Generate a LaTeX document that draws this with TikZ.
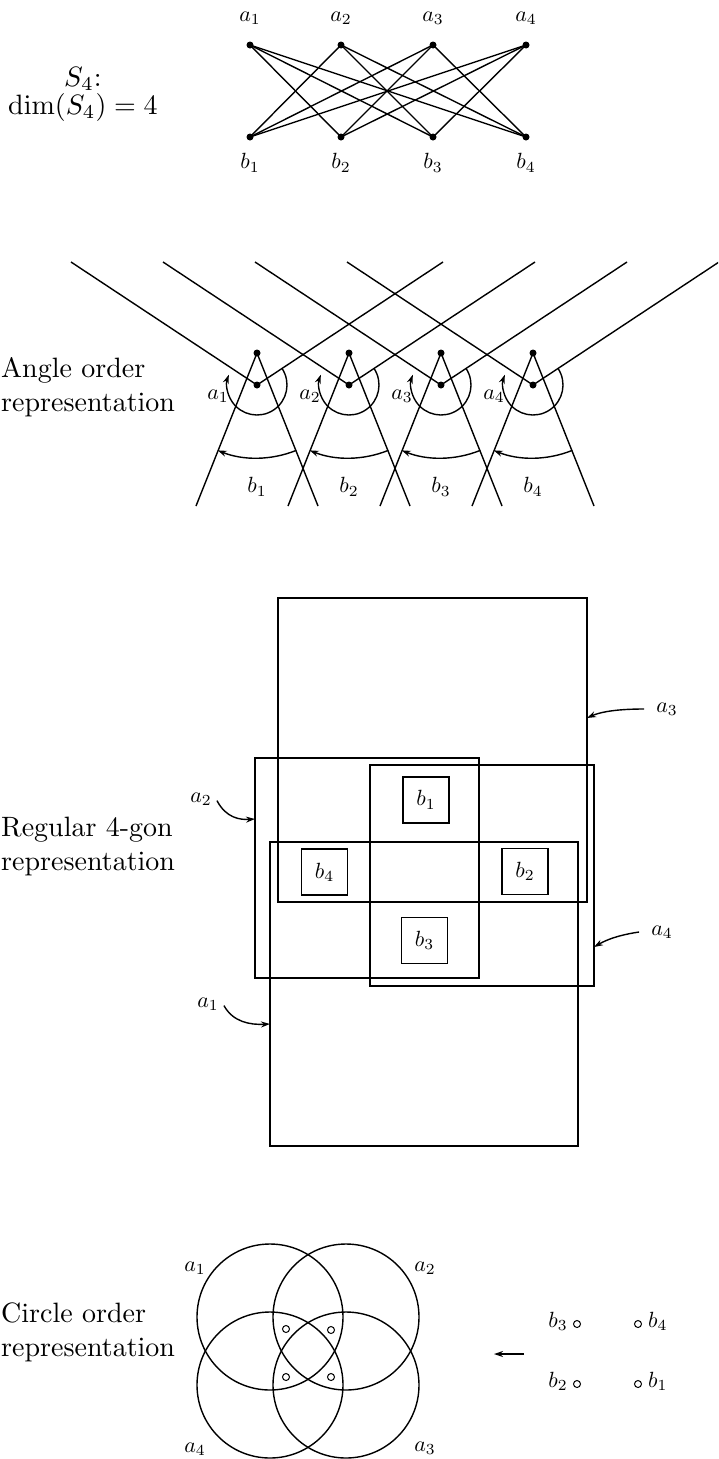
\documentclass[tikz,border=0pt]{standalone}
\usepackage{graphicx}
\usetikzlibrary{arrows.meta}
\newcommand\bigT[1]{\scalebox{2.8}{#1}}
\newcommand\smT[1]{\scalebox{2.2}{#1}}
\tikzset{
  ln/.style={line width=1.4pt},
  dot/.style={circle, fill=black, inner sep=0pt, minimum size=7pt},
  odot/.style={circle, draw=black, line width=1pt, inner sep=0pt, minimum size=7pt},
  lbl/.style={inner sep=0pt},
  big/.style={inner sep=0pt},
  arr/.style={ln, -{Stealth[length=9pt,width=6pt]}},
  boxr/.style={draw=black, line width=1.5pt, rectangle, inner sep=0pt},
  ring/.style={draw=black, line width=1.4pt, circle, inner sep=0pt, minimum size=146pt}
}
\begin{document}
\begin{tikzpicture}[x=1pt,y=-1pt]
\clip (0,0) rectangle (718,1459);

% ---------------- S4 graph ----------------
\node[big, anchor=base] (s4a) at (83,86) {\bigT{$S_4$:}};
\node[big, anchor=base] (s4b) at (83,114) {\bigT{$\dim(S_4) = 4$}};
\foreach \i/\x in {1/250,2/341,3/433,4/526}{
  \node[dot] (a\i) at (\x,45) {};
  \node[dot] (b\i) at (\x,137) {};
  \node[lbl] (la\i) at (\x,18) {\smT{$a_{\i}$}};
  \node[lbl] (lb\i) at (\x,163) {\smT{$b_{\i}$}};
}
\foreach \i in {1,...,4}{
  \foreach \j in {1,...,4}{
    \ifnum\i=\j\relax\else\draw[ln] (a\i.center) -- (b\j.center);\fi
  }
}

% ---------------- Angle order ----------------
\node[big, anchor=base west] (ang1) at (1,377) {\bigT{Angle order}};
\node[big, anchor=base west] (ang2) at (1,411) {\bigT{representation}};
\foreach \i in {0,1,2,3}{
  \pgfmathsetmacro\cx{257+92*\i}
  \pgfmathtruncatemacro\k{\i+1}
  \node[dot] (T\i) at (\cx,353) {};
  \node[dot] (V\i) at (\cx,385) {};
  \coordinate (VL\i) at (\cx-186,262);
  \coordinate (VR\i) at (\cx+186,262);
  \coordinate (FL\i) at (\cx-61,506);
  \coordinate (FR\i) at (\cx+61,506);
  \draw[ln] (VL\i) -- (V\i.center) -- (VR\i);
  \draw[ln] (FL\i) -- (T\i.center) -- (FR\i);
  \draw[arr] ([shift={(-33.5:30)}]V\i.center) arc[start angle=-33.5, end angle=200, radius=30];
  \draw[arr] ([shift={(68:105)}]T\i.center) arc[start angle=68, end angle=112, radius=105];
  \node[lbl] (aa\i) at (\cx-39,396) {\smT{$a_{\k}$}};
  \node[lbl] (ab\i) at (\cx,487) {\smT{$b_{\k}$}};
}

% ---------------- Regular 4-gon ----------------
\node[big, anchor=base west] (reg1) at (1,836) {\bigT{Regular 4-gon}};
\node[big, anchor=base west] (reg2) at (1,870) {\bigT{representation}};
\node[boxr, minimum width=309pt, minimum height=304pt] (R3) at (432.5,750) {};
\node[boxr, minimum width=308pt, minimum height=304pt] (R1) at (424,994) {};
\node[boxr, minimum width=224pt, minimum height=220pt] (R2) at (367,868) {};
\node[boxr, minimum width=224pt, minimum height=221pt] (R4) at (482,875.5) {};
\node[boxr, minimum width=46pt, minimum height=46pt] (B1) at (426,800) {\smT{$b_1$}};
\node[boxr, minimum width=46pt, minimum height=46pt] (B4) at (324.5,872) {\smT{$b_4$}};
\node[boxr, minimum width=46pt, minimum height=46pt] (B2) at (525,871.5) {\smT{$b_2$}};
\node[boxr, minimum width=46pt, minimum height=46pt] (B3) at (424.5,940.5) {\smT{$b_3$}};
\node[lbl] (ga3) at (667,709) {\smT{$a_3$}};
\node[lbl] (ga2) at (201,799) {\smT{$a_2$}};
\node[lbl] (ga1) at (208,1004) {\smT{$a_1$}};
\node[lbl] (ga4) at (662,932) {\smT{$a_4$}};
\coordinate (t3) at (587,718);
\coordinate (t2) at (255,819);
\coordinate (t1) at (270,1024);
\coordinate (t4) at (594,947);
\draw[arr] ([xshift=-12pt]ga3.west) .. controls (612,709) and (598,713) .. (t3);
\draw[arr] ([shift={(5pt,5pt)}]ga2.south east) .. controls (226,818) and (240,820) .. (t2);
\draw[arr] ([shift={(5pt,5pt)}]ga1.south east) .. controls (233,1022) and (250,1025) .. (t1);
\draw[arr] ([xshift=-12pt]ga4.west) .. controls (612,936) and (601,943) .. (t4);

% ---------------- Circle order ----------------
\node[big, anchor=base west] (cir1) at (1,1322) {\bigT{Circle order}};
\node[big, anchor=base west] (cir2) at (1,1356) {\bigT{representation}};
\node[ring] (C1) at (270,1317) {};
\node[ring] (C2) at (346,1317) {};
\node[ring] (C3) at (346,1385) {};
\node[ring] (C4) at (270,1385) {};
\node[odot] (p1) at (286,1329) {};
\node[odot] (p2) at (331,1330) {};
\node[odot] (p3) at (286,1377) {};
\node[odot] (p4) at (331,1377) {};
\node[lbl] (ca1) at (195,1268) {\smT{$a_1$}};
\node[lbl] (ca2) at (425,1268) {\smT{$a_2$}};
\node[lbl] (ca4) at (195,1449) {\smT{$a_4$}};
\node[lbl] (ca3) at (425,1448) {\smT{$a_3$}};
\coordinate (arS) at (524,1354);
\coordinate (arE) at (494,1354);
\draw[arr] (arS) -- (arE);
\node[odot] (q3) at (577,1324) {};
\node[odot] (q4) at (638,1324) {};
\node[odot] (q2) at (577,1384) {};
\node[odot] (q1) at (638,1384) {};
\node[lbl, anchor=east] (lq3) at ([xshift=-5pt,yshift=3pt]q3.west) {\smT{$b_3$}};
\node[lbl, anchor=west] (lq4) at ([xshift=6pt,yshift=3pt]q4.east) {\smT{$b_4$}};
\node[lbl, anchor=east] (lq2) at ([xshift=-5pt,yshift=3pt]q2.west) {\smT{$b_2$}};
\node[lbl, anchor=west] (lq1) at ([xshift=6pt,yshift=3pt]q1.east) {\smT{$b_1$}};
\end{tikzpicture}
\end{document}
